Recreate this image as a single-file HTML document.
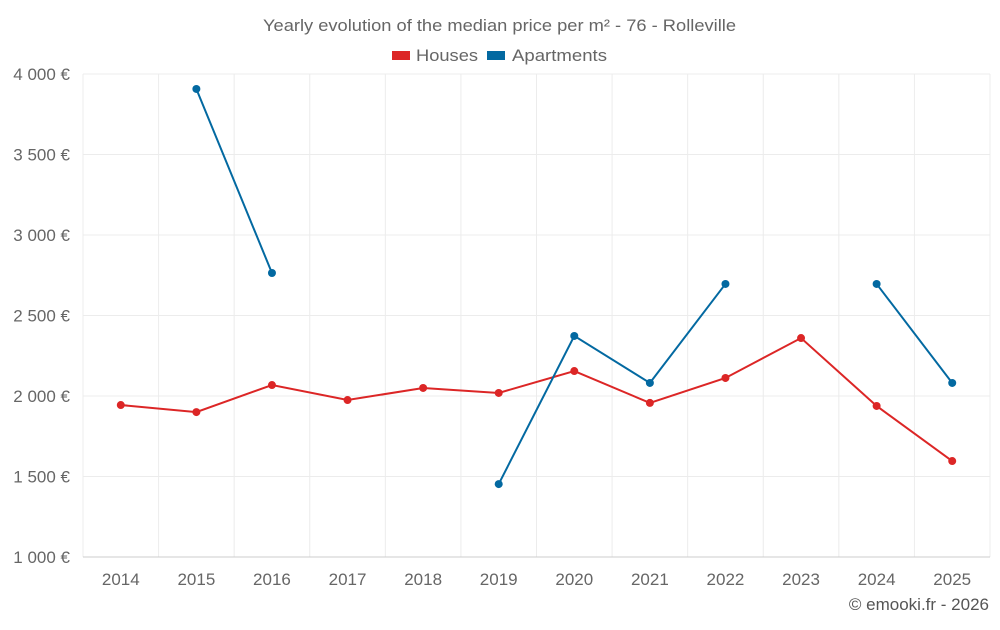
<!DOCTYPE html>
<html><head><meta charset="utf-8"><style>
body{margin:0;background:#fff;font-family:"Liberation Sans",sans-serif}
</style></head><body>
<svg id="c" width="1000" height="625"></svg>
<script>
const years=["2014","2015","2016","2017","2018","2019","2020","2021","2022","2023","2024","2025"];
const houses=[1944,1900,2068,1975,2050,2019,2155,1957,2112,2360,1938,1596];
const apartments=[null,3907,2764,null,null,1453,2373,2081,2696,null,2696,2081];
const yTicks=[1000,1500,2000,2500,3000,3500,4000];
const yLabels=["1 000 €","1 500 €","2 000 €","2 500 €","3 000 €","3 500 €","4 000 €"];
const L=83,R=990,T=74,B=557;
const step=(R-L)/years.length;
const x=i=>L+step*(i+0.5);
const y=v=>B-(v-1000)/3000*(B-T);
const svg=document.getElementById('c');
const NS="http://www.w3.org/2000/svg";
function mk(t,a,p){const e=document.createElementNS(NS,t);for(const k in a)e.setAttribute(k,a[k]);(p||svg).appendChild(e);return e;}
let e;
for(let i=0;i<=years.length;i++){e=mk('line',{x1:L+step*i,x2:L+step*i,y1:T,y2:B,stroke:'#ececec'});

}
yTicks.forEach((v,i)=>{e=mk('line',{x1:L,x2:R,y1:y(v),y2:y(v),stroke:i==0?'#ccc':'#ececec'});


e=mk('text',{x:70,y:y(v)+6,'text-anchor':'end','font-size':17,fill:'#666'});e.textContent=yLabels[i];

});
years.forEach((yr,i)=>{e=mk('text',{x:x(i),y:585,'text-anchor':'middle','font-size':17,fill:'#666'});e.textContent=yr;

});
function series(vals,col,name){
 let d='',pen=false;
 vals.forEach((v,i)=>{if(v==null){pen=false;return;}d+=(pen?'L':'M')+x(i)+' '+y(v)+' ';pen=true;});
 e=mk('path',{d:d,fill:'none',stroke:col,'stroke-width':2});
 
 
 vals.forEach((v,i)=>{if(v==null)return;e=mk('circle',{cx:x(i),cy:y(v),r:4,fill:col});
 
 });
}
series(houses,'#dc2626','houses');
series(apartments,'#0369a1','apartments');
e=mk('text',{x:263,y:31,'font-size':17,fill:'#666',textLength:473,lengthAdjust:'spacingAndGlyphs'});e.textContent='Yearly evolution of the median price per m² - 76 - Rolleville';


e=mk('rect',{x:392,y:51,width:18,height:9,fill:'#dc2626'});


e=mk('text',{x:416,y:61,'font-size':17,fill:'#666',textLength:62,lengthAdjust:'spacingAndGlyphs'});e.textContent='Houses';


e=mk('rect',{x:487,y:51,width:18,height:9,fill:'#0369a1'});


e=mk('text',{x:512,y:61,'font-size':17,fill:'#666',textLength:95,lengthAdjust:'spacingAndGlyphs'});e.textContent='Apartments';


e=mk('text',{x:989,y:610,'text-anchor':'end','font-size':17,fill:'#555'});e.textContent='© emooki.fr - 2026';


</script>
</body></html>
